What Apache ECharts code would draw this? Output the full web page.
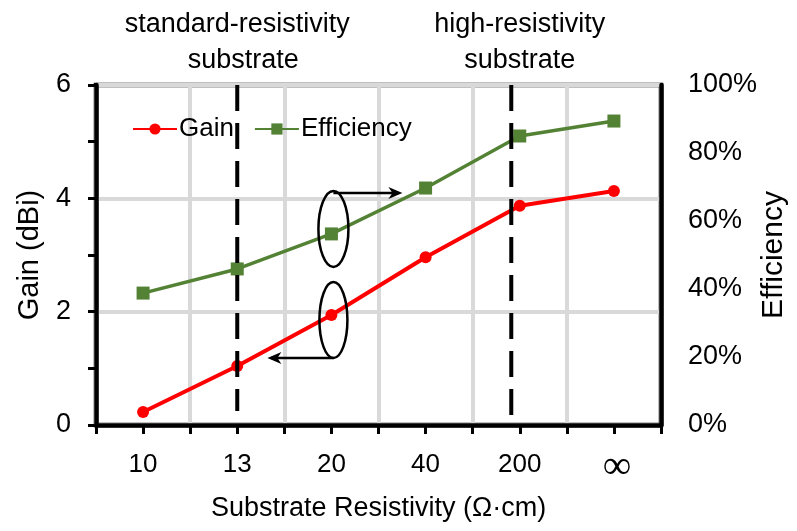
<!DOCTYPE html>
<html>
<head>
<meta charset="utf-8">
<script src="https://cdn.jsdelivr.net/npm/echarts@6/dist/echarts.min.js"></script>
<style>
  html, body { margin: 0; padding: 0; background: #fff; }
  #main { width: 797px; height: 531px; }
</style>
</head>
<body>
<div id="main"></div>
<script>
  // data
  const categories = ['10', '13', '20', '40', '200', '\u221e'];
  const gain = [0.23, 1.04, 1.94, 2.96, 3.87, 4.13];          // dBi
  const efficiency = [38.8, 45.9, 56.2, 69.7, 85.0, 89.4];    // %
  const gainTicks = { min: 0, max: 6, interval: 2 };
  const effTicks = { min: 0, max: 100, interval: 20 };

  const font = '"Liberation Sans", Arial, sans-serif';
  const axisBlack = { color: '#000', width: 4.5 };

  const chart = echarts.init(document.getElementById('main'));

  const option = {
    animation: false,
    backgroundColor: '#fff',
    grid: {
      left: 96, right: 136, top: 85, bottom: 106,
      outerBoundsMode: 'none',
      containLabel: false,
      show: true, borderColor: '#000', borderWidth: 4.5
    },
    legend: {
      left: 127, top: 111,
      itemWidth: 44, itemHeight: 14, itemGap: 20,
      textStyle: { fontFamily: font, fontSize: 26, color: '#000', padding: [0, 0, 0, -3] },
      data: ['Gain', 'Efficiency']
    },
    xAxis: [
      {
        type: 'category',
        data: categories,
        position: 'bottom',
        axisLine: { lineStyle: axisBlack },
        axisTick: { show: true, inside: false, length: 9, lineStyle: { color: '#000', width: 3 } },
        splitLine: { show: true, lineStyle: { color: '#d9d9d9', width: 4 } },
        axisLabel: {
          fontFamily: font, fontSize: 26, color: '#000', margin: 27,
          formatter: v => (v === '\u221e' ? '{inf|\u221e}' : v),
          rich: { inf: { fontFamily: '"Liberation Serif", serif', fontSize: 40, color: '#000', lineHeight: 30, padding: [0, 0, 0, 6] } }
        },
        name: 'Substrate Resistivity (\u03a9\u00b7cm)',
        nameLocation: 'middle',
        nameGap: 70,
        nameTextStyle: { fontFamily: font, fontSize: 27, color: '#000' }
      },
      {
        type: 'category',
        data: categories,
        position: 'bottom',
        axisLine: { show: false },
        axisTick: { show: true, alignWithLabel: true, inside: false, length: 9, lineStyle: { color: '#000', width: 3 } },
        splitLine: { show: false },
        axisLabel: { show: false }
      }
    ],
    yAxis: [
      {
        type: 'value',
        min: gainTicks.min, max: gainTicks.max, interval: gainTicks.interval,
        axisLine: { show: true, lineStyle: axisBlack },
        axisTick: { show: true, length: 8, lineStyle: { color: '#000', width: 3 } },
        minorTick: { show: true, splitNumber: 2, length: 8, lineStyle: { color: '#000', width: 3 } },
        splitLine: { show: true, lineStyle: { color: '#d9d9d9', width: 4 } },
        axisLabel: { fontFamily: font, fontSize: 27, color: '#000', margin: 25 },
        name: 'Gain (dBi)',
        nameLocation: 'middle',
        nameRotate: 90,
        nameGap: 52,
        nameTextStyle: { fontFamily: font, fontSize: 29, color: '#000' }
      },
      {
        type: 'value',
        position: 'right',
        min: effTicks.min, max: effTicks.max, interval: effTicks.interval,
        axisLine: { show: true, lineStyle: axisBlack },
        axisTick: { show: false },
        splitLine: { show: false },
        axisLabel: { fontFamily: font, fontSize: 27, color: '#000', margin: 27, formatter: '{value}%' },
        name: 'Efficiency',
        nameLocation: 'middle',
        nameRotate: 90,
        nameGap: 98,
        nameMoveOverlap: false,
        nameTextStyle: { fontFamily: font, fontSize: 30, color: '#000' }
      }
    ],
    series: [
      {
        name: 'Gain',
        type: 'line',
        xAxisIndex: 0, yAxisIndex: 0,
        data: gain,
        symbol: 'circle',
        symbolSize: 12,
        itemStyle: { color: '#ff0000' },
        lineStyle: { color: '#ff0000', width: 4 },
        z: 5
      },
      {
        name: 'Efficiency',
        type: 'line',
        xAxisIndex: 0, yAxisIndex: 1,
        data: efficiency,
        symbol: 'rect',
        symbolSize: 13,
        itemStyle: { color: '#548235' },
        lineStyle: { color: '#548235', width: 3.5 },
        z: 5
      }
    ]
  };

  chart.setOption(option);

  // annotations placed from the axes
  const xOf = c => chart.convertToPixel({ xAxisIndex: 0 }, c);
  const yTop = chart.convertToPixel({ yAxisIndex: 0 }, gainTicks.max);
  const yBot = chart.convertToPixel({ yAxisIndex: 0 }, gainTicks.min);
  const step = xOf('200') - xOf('40');
  const x13 = xOf('13');
  const xHigh = xOf('200') - 0.09 * step;

  const effPt = chart.convertToPixel({ seriesIndex: 1 }, ['20', efficiency[2]]);
  const gainPt = chart.convertToPixel({ seriesIndex: 0 }, ['20', gain[2]]);
  const e1 = { cx: effPt[0] + 2, cy: effPt[1] - 5, rx: 15, ry: 38 };
  const e2 = { cx: gainPt[0] + 2, cy: gainPt[1] + 5, rx: 14, ry: 38 };

  const dash = { stroke: '#000', lineWidth: 4, lineDash: [26, 12] };
  const thin = { stroke: '#000', lineWidth: 2.5, fill: 'none' };

  function arrowHead(x, y, dir) {
    return [[x, y], [x - dir * 14, y - 6], [x - dir * 10, y], [x - dir * 14, y + 6]];
  }

  const a1y = e1.cy - e1.ry + 2, a1end = e1.cx + 69;
  const a2y = e2.cy + e2.ry, a2end = e2.cx - 66;
  const noteFont = '27px ' + font;

  chart.setOption({
    graphic: [
      { type: 'line', z: 100, shape: { x1: x13, y1: yTop, x2: x13, y2: yBot - 14 }, style: dash },
      { type: 'line', z: 100, shape: { x1: xHigh, y1: yTop, x2: xHigh, y2: yBot - 2 }, style: dash },
      { type: 'ellipse', z: 100, shape: e1, style: thin },
      { type: 'ellipse', z: 100, shape: e2, style: thin },
      { type: 'line', z: 100, shape: { x1: e1.cx, y1: a1y, x2: a1end - 4, y2: a1y }, style: { stroke: '#000', lineWidth: 2.5 } },
      { type: 'polygon', z: 100, shape: { points: arrowHead(a1end, a1y, 1) }, style: { fill: '#000' } },
      { type: 'line', z: 100, shape: { x1: e2.cx, y1: a2y, x2: a2end + 4, y2: a2y }, style: { stroke: '#000', lineWidth: 2.5 } },
      { type: 'polygon', z: 100, shape: { points: arrowHead(a2end, a2y, -1) }, style: { fill: '#000' } },
      { type: 'text', z: 100, style: { text: 'standard-resistivity', x: x13, y: 25, align: 'center', verticalAlign: 'middle', font: noteFont, fill: '#000' } },
      { type: 'text', z: 100, style: { text: 'substrate', x: x13 + 6, y: 61, align: 'center', verticalAlign: 'middle', font: noteFont, fill: '#000' } },
      { type: 'text', z: 100, style: { text: 'high-resistivity', x: xOf('200'), y: 25, align: 'center', verticalAlign: 'middle', font: noteFont, fill: '#000' } },
      { type: 'text', z: 100, style: { text: 'substrate', x: xOf('200'), y: 61, align: 'center', verticalAlign: 'middle', font: noteFont, fill: '#000' } }
    ]
  });
</script>
</body>
</html>
